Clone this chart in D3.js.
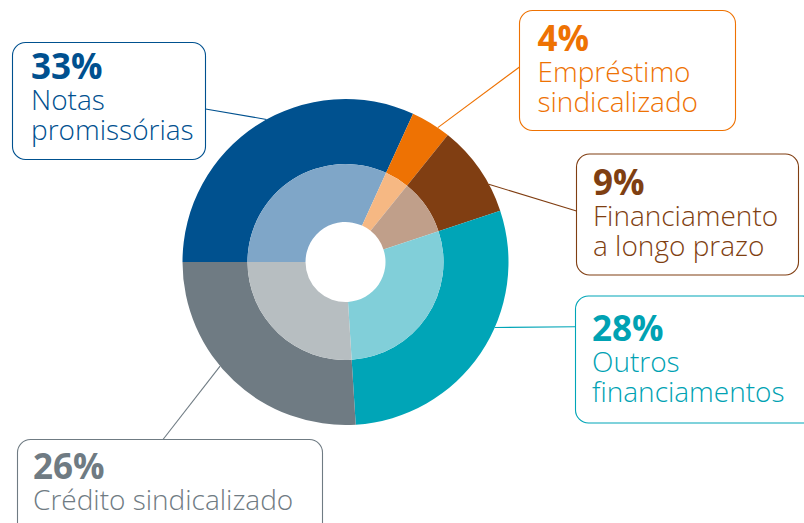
<!DOCTYPE html>
<html>
<head>
<meta charset="utf-8">
<script src="https://cdn.jsdelivr.net/npm/d3@7"></script>
<style>
  html, body { margin: 0; padding: 0; background: #fff; }
  svg { display: block; }
  text { font-family: "Open Sans", "Noto Sans", sans-serif; }
</style>
</head>
<body>
<svg id="chart" width="804" height="523"></svg>
<script>
// ---- data ----
const categories = ["Notas promissórias", "Empréstimo sindicalizado", "Financiamento a longo prazo", "Outros financiamentos", "Crédito sindicalizado"];
const percentLabels = ["33%", "4%", "9%", "28%", "26%"];
// slice shares as drawn in the picture (angular size of each slice)
const sliceShares = [31.8, 4.0, 9.1, 29.1, 26.0];
const labelLines = [
  ["Notas", "promissórias"],
  ["Empréstimo", "sindicalizado"],
  ["Financiamento", "a longo prazo"],
  ["Outros", "financiamentos"],
  ["Crédito sindicalizado"]
];

// ---- styles ----
const darkColors  = ["#00518f", "#ee7203", "#803e12", "#00a5b7", "#6f7b83"];
const lightColors = ["#7fa6c8", "#f6b883", "#c09f8a", "#81cfd9", "#b7bec1"];
const textColors  = ["#00508f", "#ee7203", "#7f3f12", "#00a2b3", "#6f7b83"];

// ---- layout ----
const cx = 345.5, cy = 262;
const rOuter = 163, rMid = 98, rHole = 40;
const boxes = [
  {x: 12.5,  y: 42.5,  w: 193, h: 117, anchorDeg: 331},
  {x: 519.5, y: 10.5,  w: 216, h: 120, anchorDeg: 34.5},
  {x: 576.5, y: 154,   w: 222, h: 121, anchorDeg: 61.5},
  {x: 575.5, y: 296,   w: 240, h: 127, anchorDeg: 113.7},
  {x: 17.5,  y: 439.5, w: 305, h: 110, anchorDeg: 230.3}
];
const leaderStart = [
  [205.5, 109], [519.5, 67], [576.5, 211], [575.5, 326.7], [163, 439.5]
];
const textLeft = [31, 537.5, 593, 592, 33];
const pctBaseline = [79, 51, 195, 341, 478.5];
const lineStep = 29.5;
const firstLineGap = 31;

const svg = d3.select("#chart");

const pie = d3.pie().sort(null).value(d => d)
  .startAngle(-Math.PI / 2).endAngle(3 * Math.PI / 2);
const arcs = pie(sliceShares);

const arcOuter = d3.arc().innerRadius(rMid).outerRadius(rOuter);
const arcInner = d3.arc().innerRadius(rHole).outerRadius(rMid);

// leader lines (behind pie)
const gLines = svg.append("g");
boxes.forEach((b, i) => {
  const a = b.anchorDeg * Math.PI / 180;
  const ex = cx + rOuter * Math.sin(a);
  const ey = cy - rOuter * Math.cos(a);
  gLines.append("line")
    .attr("x1", leaderStart[i][0]).attr("y1", leaderStart[i][1])
    .attr("x2", ex).attr("y2", ey)
    .attr("stroke", darkColors[i]).attr("stroke-width", 1.1);
});

const gPie = svg.append("g").attr("transform", `translate(${cx},${cy})`);
gPie.selectAll("path.outer").data(arcs).join("path")
  .attr("class", "outer")
  .attr("d", arcOuter)
  .attr("fill", (d, i) => darkColors[i]);
gPie.selectAll("path.inner").data(arcs).join("path")
  .attr("class", "inner")
  .attr("d", arcInner)
  .attr("fill", (d, i) => lightColors[i]);

// label boxes
const gBoxes = svg.append("g");
boxes.forEach((b, i) => {
  const g = gBoxes.append("g");
  g.append("rect")
    .attr("x", b.x).attr("y", b.y).attr("width", b.w).attr("height", b.h)
    .attr("rx", 13).attr("ry", 13)
    .attr("fill", "#fff")
    .attr("stroke", darkColors[i]).attr("stroke-width", 1.1);
  const t = g.append("text")
    .attr("x", textLeft[i]).attr("y", pctBaseline[i])
    .attr("fill", textColors[i]);
  t.append("tspan")
    .attr("x", textLeft[i]).attr("y", pctBaseline[i])
    .attr("font-size", 35).attr("font-weight", 700)
    .text(percentLabels[i]);
  labelLines[i].forEach((ln, j) => {
    t.append("tspan")
      .attr("x", textLeft[i])
      .attr("y", pctBaseline[i] + firstLineGap + j * lineStep)
      .attr("font-size", 28).attr("font-weight", 300)
      .text(ln);
  });
});
</script>
</body>
</html>
